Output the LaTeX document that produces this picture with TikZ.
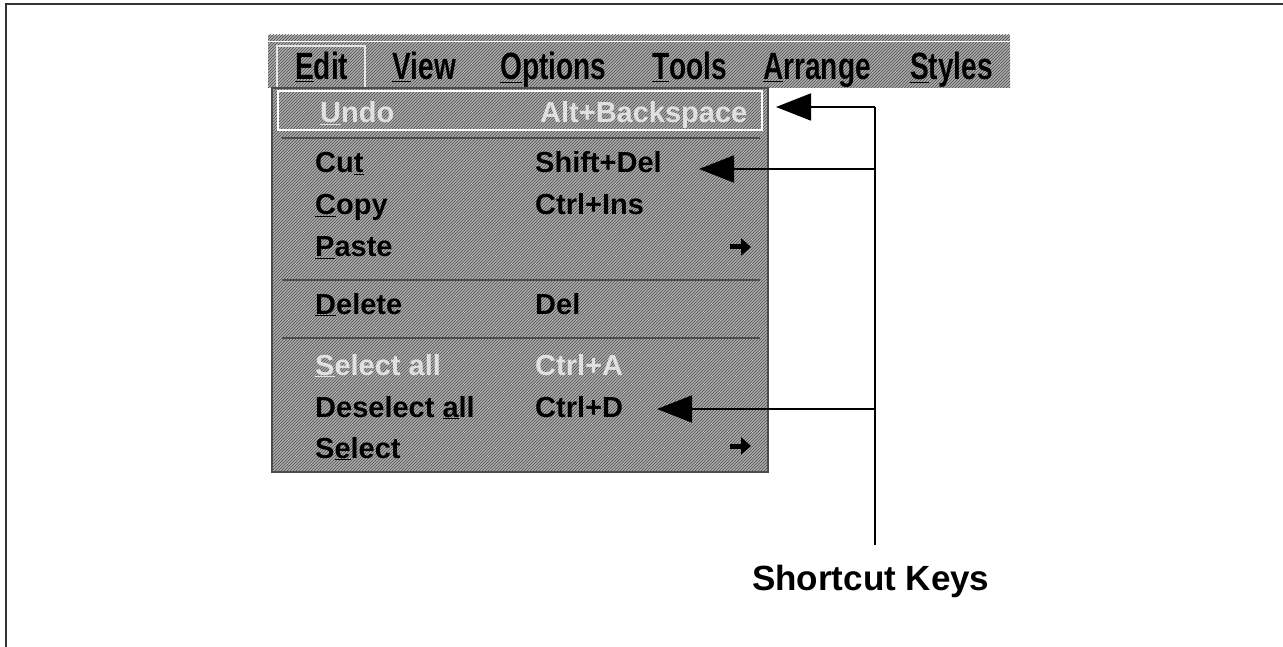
\documentclass[tikz,border=0pt]{standalone}
\usepackage{fontspec}
\setmainfont{Liberation Sans}
\usetikzlibrary{arrows.meta,patterns}
\tikzset{
  hatch/.style={fill=black!32, postaction={pattern=north east lines, pattern color=black!70}},
  barlabel/.style={font=\bfseries\fontsize{38}{40}\selectfont, xscale=0.74, anchor=base west, inner sep=0pt},
  itemlabel/.style={font=\bfseries\fontsize{29}{32}\selectfont, anchor=base west, inner sep=0pt},
  greyed/.style={itemlabel, text=black!12},
  keyline/.style={line width=1.8pt},
  keyarrow/.style={keyline, -{Triangle[length=35pt,width=27pt]}},
}
\begin{document}
\begin{tikzpicture}[x=1pt,y=-1pt]
  \useasboundingbox (0,0) rectangle (1283,647);
  % frame
  \draw[line width=2.5pt, black!80] (6,647) -- (6,4) -- (1283,4);
  % menu bar
  \path[hatch] (268,35) rectangle (1010,88);
  \draw[white, line width=1pt] (268,42) -- (1010,42);
  \draw[white!90!black, line width=1.2pt] (277,88) -- (277,46) -- (365,46) -- (365,88);
  \node[barlabel] (mEdit) at (295,80) {\underline{E}dit};
  \node[barlabel] (mView) at (392,80) {\underline{V}iew};
  \node[barlabel] (mOptions) at (500,80) {\underline{O}ptions};
  \node[barlabel] (mTools) at (652,80) {\underline{T}ools};
  \node[barlabel] (mArrange) at (763,80) {\underline{A}rrange};
  \node[barlabel] (mStyles) at (910,80) {\underline{S}tyles};
  % drop-down
  \path[hatch, draw=black!70, line width=1.5pt] (272,88) rectangle (768,472);
  \draw[white, line width=1.5pt] (278,91) rectangle (762,130);
  \foreach \y in {138,280,338}
    \draw[black!70, line width=1.2pt] (282,\y) -- (760,\y);
  \node[greyed] (iUndo) at (320,123) {\underline{U}ndo};
  \node[greyed] (kUndo) at (540,123) {Alt+Backspace};
  \node[itemlabel] (iCut) at (315,173) {Cu\underline{t}};
  \node[itemlabel] (kCut) at (535,173) {Shift+Del};
  \node[itemlabel] (iCopy) at (315,215) {\underline{C}opy};
  \node[itemlabel] (kCopy) at (535,215) {Ctrl+Ins};
  \node[itemlabel] (iPaste) at (315,257) {\underline{P}aste};
  \node[itemlabel] (iDelete) at (315,314) {\underline{D}elete};
  \node[itemlabel] (kDelete) at (535,314) {Del};
  \node[greyed] (iSelAll) at (315,375) {\underline{S}elect all};
  \node[greyed] (kSelAll) at (535,375) {Ctrl+A};
  \node[itemlabel] (iDesel) at (315,417) {Deselect \underline{a}ll};
  \node[itemlabel] (kDesel) at (535,417) {Ctrl+D};
  \node[itemlabel] (iSelect) at (315,458) {S\underline{e}lect};
  % submenu arrows
  \foreach \y in {247,446}
    \draw[line width=5pt, -{Triangle[length=10pt,width=17pt]}] (730,\y) -- (751,\y);
  % shortcut key pointers
  \node[font=\bfseries\fontsize{35}{38}\selectfont, anchor=base west, inner sep=0pt] (lbl) at (752,590) {Shortcut Keys};
  \coordinate (jUndo) at (875,107);
  \coordinate (jCut) at (875,169);
  \coordinate (jDesel) at (875,409);
  \coordinate (jEnd) at (875,545);
  \coordinate (tUndo) at (776,107);
  \coordinate (tCut) at (699,169);
  \coordinate (tDesel) at (657,409);
  \draw[keyline] (jUndo) -- (jEnd);
  \draw[keyarrow] (jUndo) -- (tUndo);
  \draw[keyarrow] (jCut) -- (tCut);
  \draw[keyarrow] (jDesel) -- (tDesel);
\end{tikzpicture}
\end{document}
